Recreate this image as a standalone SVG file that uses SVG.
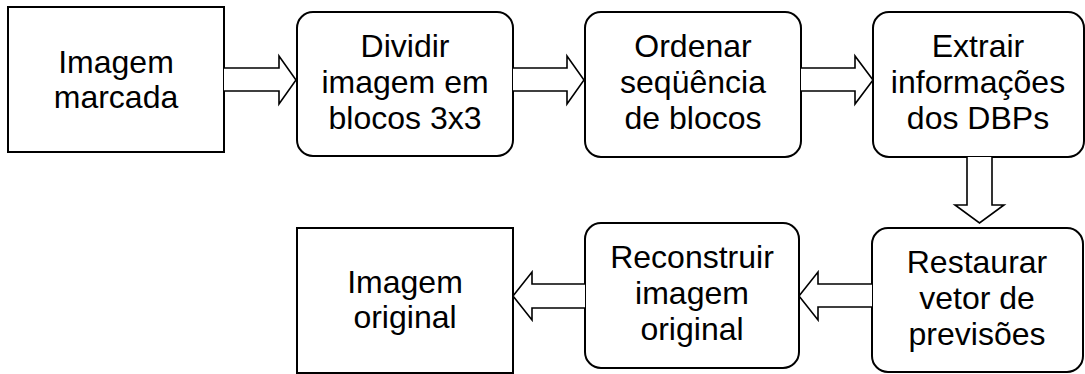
<svg xmlns="http://www.w3.org/2000/svg" width="1085" height="374" viewBox="0 0 1085 374">
<style>
.box{fill:#fff;stroke:#000;stroke-width:2}
.arr{fill:#fff;stroke:#000;stroke-width:1.6;stroke-linejoin:miter}
text{font-family:"Liberation Sans",Arial,sans-serif;font-size:32px;fill:#000;text-anchor:middle}
</style>
<rect width="1085" height="374" fill="#fff"/>
<g id="n1"><rect class="box" x="8" y="7" width="216" height="145"/>
<text x="116" y="73">Imagem</text><text x="116" y="108">marcada</text></g>
<g id="n2"><rect class="box" x="297" y="12" width="216" height="144" rx="16"/>
<text x="405" y="57">Dividir</text><text x="405" y="93">imagem em</text><text x="405" y="129">blocos 3x3</text></g>
<g id="n3"><rect class="box" x="585" y="12" width="216" height="145" rx="16"/>
<text x="693" y="57">Ordenar</text><text x="693" y="93">seqüência</text><text x="693" y="129">de blocos</text></g>
<g id="n4"><rect class="box" x="873" y="12" width="211" height="145" rx="16"/>
<text x="978" y="57">Extrair</text><text x="978" y="93">informações</text><text x="978" y="129">dos DBPs</text></g>
<g id="n5"><rect class="box" x="872" y="228" width="211" height="144" rx="16"/>
<text x="977" y="273">Restaurar</text><text x="977" y="309">vetor de</text><text x="977" y="345">previsões</text></g>
<g id="n6"><rect class="box" x="585" y="223" width="214" height="145" rx="16"/>
<text x="692" y="268">Reconstruir</text><text x="692" y="304">imagem</text><text x="692" y="340">original</text></g>
<g id="n7"><rect class="box" x="297" y="228" width="216" height="145"/>
<text x="405" y="293">Imagem</text><text x="405" y="328">original</text></g>
<g id="connectors">
<path class="arr" d="M224,68 H279 V56 L296,80 L279,104 V91 H224"/>
<path class="arr" d="M513,68 H567 V56 L584,80 L567,104 V91 H513"/>
<path class="arr" d="M801,68 H855 V56 L873,80 L855,104 V91 H801"/>
<path class="arr" d="M967,157 V205 H955 L979.5,223 L1004,205 H992 V157"/>
<path class="arr" d="M872,284 H818 V272 L799,296 L818,320 V307 H872"/>
<path class="arr" d="M585,284 H532 V272 L513,296 L532,320 V308 H585"/>
</g>
</svg>
